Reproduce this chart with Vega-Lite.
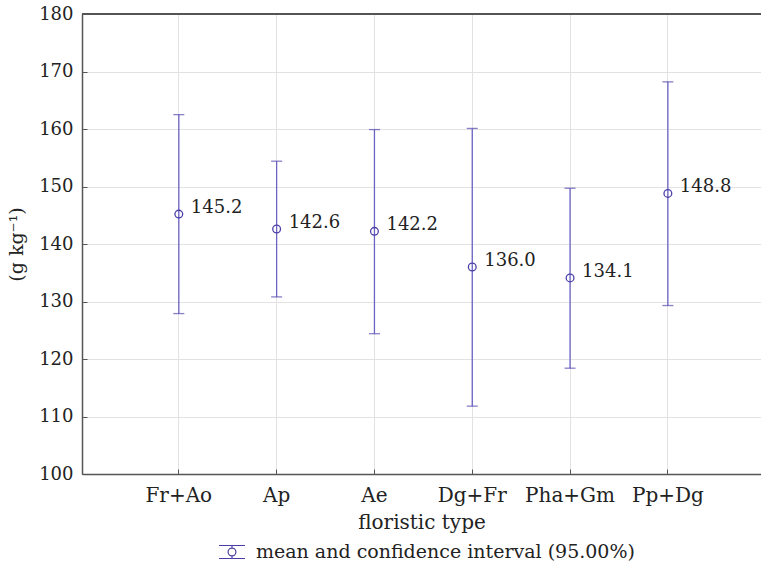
{
  "$schema": "https://vega.github.io/schema/vega-lite/v6.json",
  "width": 679,
  "height": 460,
  "autosize": {"type": "none"},
  "padding": {"left": 82, "top": 14, "right": 0, "bottom": 96},
  "background": "white",
  "config": {
    "font": "DejaVu Serif",
    "view": {"stroke": null},
    "axis": {
      "labelFont": "DejaVu Serif",
      "titleFont": "DejaVu Serif",
      "labelFontSize": 18,
      "titleFontSize": 20,
      "titleFontWeight": "normal",
      "labelColor": "#222222",
      "titleColor": "#222222",
      "domainColor": "#555555",
      "domainWidth": 1.5,
      "tickColor": "#555555",
      "tickSize": -5,
      "gridColor": "#e2e2e2",
      "gridWidth": 1
    },
    "legend": {"labelFont": "DejaVu Serif", "labelFontSize": 19, "labelColor": "#222222"}
  },
  "data": {
    "values": [
      {"type": "Fr+Ao", "mean": 145.2, "lower": 127.9, "upper": 162.5, "series": "mean and confidence interval (95.00%)"},
      {"type": "Ap", "mean": 142.6, "lower": 130.8, "upper": 154.4, "series": "mean and confidence interval (95.00%)"},
      {"type": "Ae", "mean": 142.2, "lower": 124.4, "upper": 159.9, "series": "mean and confidence interval (95.00%)"},
      {"type": "Dg+Fr", "mean": 136.0, "lower": 111.8, "upper": 160.1, "series": "mean and confidence interval (95.00%)"},
      {"type": "Pha+Gm", "mean": 134.1, "lower": 118.4, "upper": 149.7, "series": "mean and confidence interval (95.00%)"},
      {"type": "Pp+Dg", "mean": 148.8, "lower": 129.3, "upper": 168.2, "series": "mean and confidence interval (95.00%)"}
    ]
  },
  "encoding": {
    "x": {
      "field": "type",
      "type": "nominal",
      "sort": null,
      "scale": {"type": "band", "paddingInner": 0, "paddingOuter": 0.471, "align": 0.52},
      "axis": {"title": "floristic type", "labelAngle": 0, "grid": true, "bandPosition": 0.5, "labelPadding": 16, "titlePadding": 7, "labelFontSize": 20}
    }
  },
  "layer": [
    {
      "mark": {"type": "rule", "color": "#555555", "strokeWidth": 1.5},
      "encoding": {"x": {"value": 0}, "x2": {"value": 679}, "y": {"datum": 180}}
    },
    {
      "mark": {"type": "rule", "color": "#6b62c2", "strokeWidth": 1.3},
      "encoding": {
        "y": {
          "field": "lower",
          "type": "quantitative",
          "scale": {"domain": [100, 180], "nice": false, "zero": false},
          "axis": {"title": "(g kg⁻¹)", "values": [100, 110, 120, 130, 140, 150, 160, 170, 180], "grid": true, "labelPadding": 14, "titlePadding": 12, "titleFontSize": 19}
        },
        "y2": {"field": "upper"}
      }
    },
    {
      "mark": {"type": "tick", "color": "#5449b0", "size": 11, "thickness": 1.3, "orient": "horizontal"},
      "encoding": {"y": {"field": "lower", "type": "quantitative"}}
    },
    {
      "mark": {"type": "tick", "color": "#5449b0", "size": 11, "thickness": 1.3, "orient": "horizontal"},
      "encoding": {"y": {"field": "upper", "type": "quantitative"}}
    },
    {
      "mark": {"type": "point", "shape": "circle", "filled": false, "size": 60, "strokeWidth": 1.3, "opacity": 1},
      "encoding": {
        "y": {"field": "mean", "type": "quantitative"},
        "color": {
          "field": "series",
          "type": "nominal",
          "scale": {"range": ["#4a3fa8"]},
          "legend": {
            "title": null,
            "orient": "none",
            "legendX": 136,
            "legendY": 524,
            "labelLimit": 0,
            "symbolType": "M-1,-0.5H1M0,-0.5V-0.3M0,0.3V0.5M-1,0.5H1M0.3,0A0.3,0.3 0 1,1 -0.3,0A0.3,0.3 0 1,1 0.3,0",
            "symbolSize": 676,
            "symbolStrokeWidth": 1.2,
            "symbolFillColor": "transparent",
            "symbolStrokeColor": "#4a3fa8",
            "labelOffset": 10
          }
        }
      }
    },
    {
      "mark": {"type": "text", "align": "left", "baseline": "middle", "dx": 12, "dy": -6, "fontSize": 18, "color": "#222222", "font": "DejaVu Serif"},
      "encoding": {
        "y": {"field": "mean", "type": "quantitative"},
        "text": {"field": "mean", "type": "quantitative", "format": ".1f"}
      }
    }
  ]
}
